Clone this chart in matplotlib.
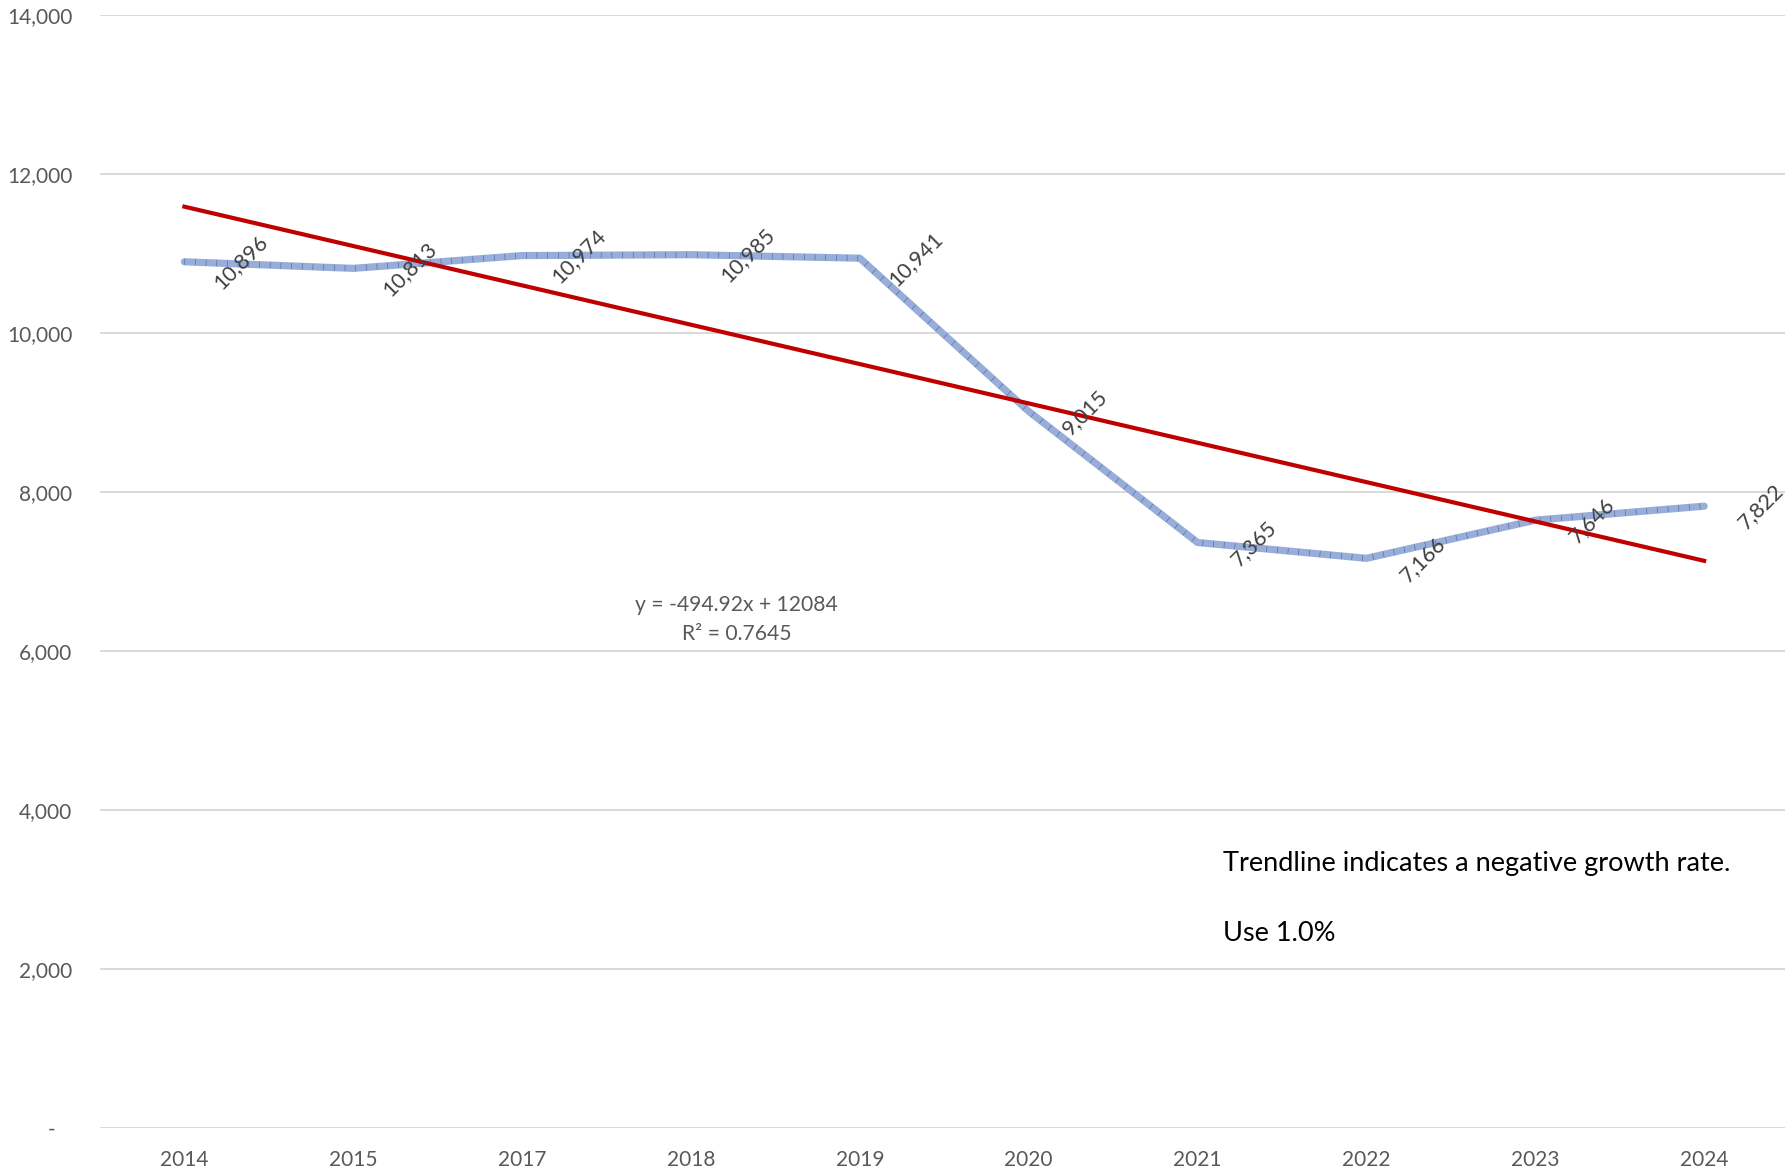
import numpy as np
import matplotlib
matplotlib.use("Agg")
import matplotlib.pyplot as plt
from matplotlib.ticker import FixedLocator

plt.rcParams['font.family'] = ['Lato', 'DejaVu Sans']

# annual counts (no 2016 entry in the source table)
years = ['2014', '2015', '2017', '2018', '2019', '2020', '2021', '2022', '2023', '2024']
values = [10896, 10813, 10974, 10985, 10941, 9015, 7365, 7166, 7646, 7822]

# linear trendline as reported by the spreadsheet
slope = -494.92
intercept = 12084
r_squared = 0.7645

y_ticks = [0, 2000, 4000, 6000, 8000, 10000, 12000, 14000]

grey = '#595959'

fig = plt.figure(figsize=(17.85, 11.72), dpi=100)
ax = fig.add_axes([0.056, 0.0375, 0.946, 0.9497])

x = np.arange(len(years))

# grid first so everything sits on top of it
for t in y_ticks:
    ax.axhline(t, color='#d9d9d9', lw=1.4, zorder=0)

# textured blue series line: pale band with fine cross ticks
ax.plot(x, values, color='#98aed9', lw=5.2, solid_capstyle='round',
        solid_joinstyle='round', zorder=2)
ax.plot(x, values, color='#3f5d9c', lw=4.4, dashes=(0.1, 1.65),
        dash_capstyle='butt', alpha=0.85, zorder=2)

# trendline evaluated at x = 1..n
trend_x = x + 1
trend_y = slope * trend_x + intercept
ax.plot(x, trend_y, color='#c00000', lw=3, zorder=3)

# rotated data labels to the right of each point
for xi, v in zip(x, values):
    ax.annotate(f'{v:,}', (xi, v), xytext=(40.5, -0.5), textcoords='offset points',
                rotation=45, ha='center', va='center', fontsize=15.5,
                color='#404040', zorder=4, rotation_mode='anchor')

ax.text(3.27, 6585, f'y = {slope}x + {intercept}',
        ha='center', va='center', fontsize=15.2, color=grey)
ax.text(3.27, 6214, f'R² = {r_squared}',
        ha='center', va='center', fontsize=15.2, color=grey)

ax.text(6.15, 3333, 'Trendline indicates a negative growth rate.',
        ha='left', va='center', fontsize=19.5, color='black')
ax.text(6.15, 2446, 'Use 1.0%', ha='left', va='center', fontsize=19.5, color='black')

ax.set_xlim(-0.5, len(years) - 0.5)
ax.set_ylim(0, 14000)
ax.set_xticks(x)
ax.set_xticklabels(years)
ax.yaxis.set_major_locator(FixedLocator(y_ticks))
ax.set_yticklabels(['-   '] + [f'{t:,}' for t in y_ticks[1:]])
ax.tick_params(axis='both', length=0, labelsize=15, labelcolor=grey)
ax.tick_params(axis='y', pad=20)
ax.tick_params(axis='x', pad=16)
for s in ax.spines.values():
    s.set_visible(False)

fig.savefig('out.png', dpi=100, facecolor='white')
